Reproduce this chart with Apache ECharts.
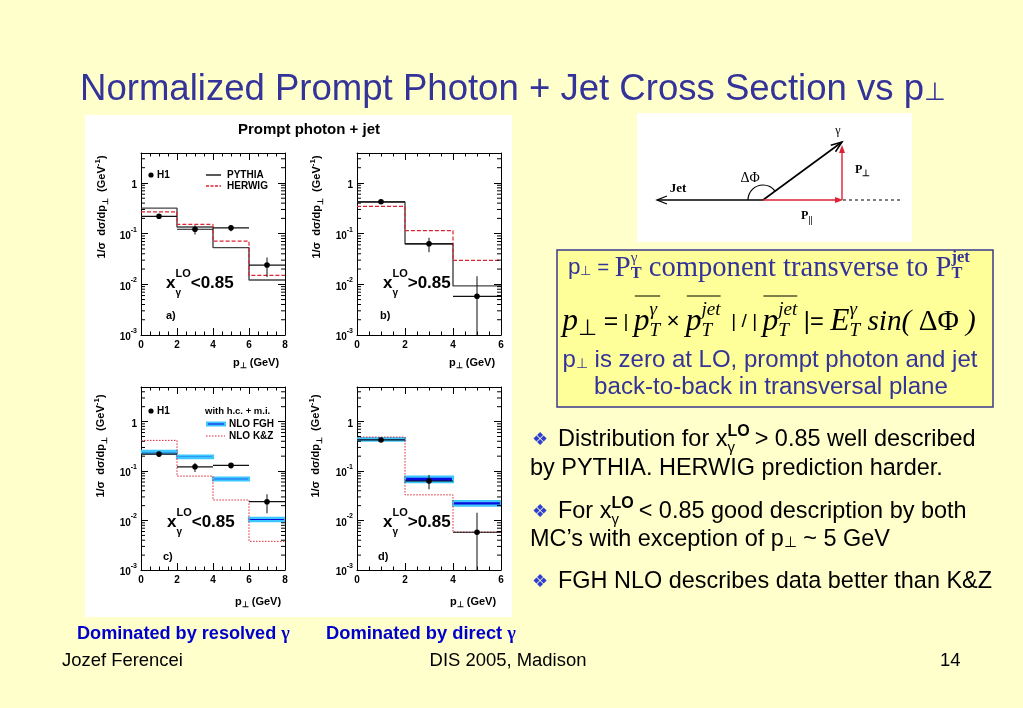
<!DOCTYPE html>
<html><head><meta charset="utf-8">
<script src="https://cdn.jsdelivr.net/npm/echarts@6/dist/echarts.min.js"></script>
<style>html,body{margin:0;padding:0;background:#FFFFCC;}#c{width:1023px;height:708px;}</style>
</head><body><div id="c"></div>
<script>
// ---------------- DATA ----------------
// bin edges in p_perp (GeV)
const binsResolved = [0, 2, 4, 6, 8];   // x_gamma^LO < 0.85
const binsDirect   = [0, 2, 4, 6];      // x_gamma^LO > 0.85

// H1 data, x_gamma^LO < 0.85
const h1ResX     = [1, 3, 5, 7];
const h1ResY     = [0.22, 0.122, 0.13, 0.024];
const h1ResErrHi = [0.24, 0.146, 0.145, 0.034];
const h1ResErrLo = [0.20, 0.096, 0.112, 0.014];
// H1 data, x_gamma^LO > 0.85
const h1DirX     = [1, 3, 5];
const h1DirY     = [0.425, 0.063, 0.0058];
const h1DirErrHi = [0.45, 0.083, 0.0144];
const h1DirErrLo = [0.40, 0.043, 0.001];

// Monte Carlo
const pythiaRes = [0.318, 0.135, 0.053, 0.0122];
const herwigRes = [0.27, 0.152, 0.071, 0.015];
const pythiaDir = [0.42, 0.063, 0.0093];
const herwigDir = [0.344, 0.115, 0.0296];

// NLO
const fghResLo = [0.229, 0.182, 0.065, 0.0097];
const fghResHi = [0.255, 0.206, 0.0736, 0.0113];
const fghDirLo = [0.417, 0.060, 0.020];
const fghDirHi = [0.463, 0.077, 0.0247];
const kzRes = [0.417, 0.079, 0.026, 0.0038];
const kzDir = [0.486, 0.033, 0.00585];

// ---------------- HELPERS ----------------
const SANS = '"Liberation Sans", Arial, Helvetica, sans-serif';
const SERIF = '"Liberation Serif", "Times New Roman", Times, serif';
const BLUE = '#333399';
const RED = '#dd2233';
const cv = document.createElement('canvas'); const ctx = cv.getContext('2d');
function fontStr(p){ return (p.i?'italic ':'') + (p.b?'bold ':'') + p.s + 'px ' + (p.f||SANS); }
const G = [];
function txt(x, y, t, p){
  G.push({type:'text', x:x, y:y, z:20, silent:true, rotation:p.rot||0,
    style:{text:t, fontSize:p.s, fontFamily:p.f||SANS, fontWeight:p.b?'bold':'normal', fontStyle:p.i?'italic':'normal',
      fill:p.c||'#000', align:p.a||'left', verticalAlign:'middle'}});
}
function layout(parts, k){
  k = k || 1;
  const lay = []; let x = 0, lastStart = 0, lastEnd = 0;
  parts.forEach(p0 => {
    const p = Object.assign({}, p0, {s:p0.s*k, dy:(p0.dy||0)*k, gap:(p0.gap||0)*k});
    ctx.font = fontStr(p);
    const w = ctx.measureText(p.t).width;
    let sx, end;
    if (p.stack) { sx = lastStart; end = Math.max(lastEnd, sx + w); }
    else { sx = x; end = x + w; lastStart = sx; }
    lay.push({p:p, sx:sx, w:w});
    lastEnd = end; x = end + p.gap;
  });
  return {lay:lay, width:x};
}
function seq(x0, y, parts, opt){
  opt = opt || {};
  let k = 1;
  if (opt.fit) { k = opt.fit / layout(parts, 1).width; }
  const L = layout(parts, k);
  let off = x0;
  if (opt.center) off = x0 - L.width/2;
  L.lay.forEach(l => { const p = Object.assign({}, l.p); if (!p.c) p.c = opt.c; txt(off + l.sx, y + l.p.dy, l.p.t, p); });
  return L.lay.map(l => [off + l.sx, off + l.sx + l.w]);
}
function fitSize(t, p, w){ ctx.font = fontStr(Object.assign({}, p, {s:100})); return 100 * w / ctx.measureText(t).width; }
function line(x1,y1,x2,y2,stroke,w,dash){ G.push({type:'line', z:15, silent:true, shape:{x1,y1,x2,y2}, style:{stroke:stroke, lineWidth:w||1, lineDash:dash||null}}); }
function arrowPts(x1,y1,x2,y2,len,half){ const dx=x2-x1, dy=y2-y1, L=Math.hypot(dx,dy), ux=dx/L, uy=dy/L; const bx=x2-ux*len, by=y2-uy*len; return [[bx-uy*half, by+ux*half],[x2,y2],[bx+uy*half, by-ux*half]]; }
function hist(edges, vals){ const d=[]; vals.forEach((v,i)=>{ d.push([edges[i], v]); d.push([edges[i+1], v]); }); return d; }

// ---------------- BACKGROUND PIECES ----------------
G.push({type:'rect', z:-5, silent:true, shape:{x:85, y:115, width:427, height:502}, style:{fill:'#ffffff'}});
G.push({type:'rect', z:-5, silent:true, shape:{x:637, y:113, width:275, height:129}, style:{fill:'#ffffff'}});
G.push({type:'rect', z:-5, silent:true, shape:{x:557, y:250, width:436, height:157}, style:{fill:'#FFFF99', stroke:'#3a3a8c', lineWidth:1.5}});

// title
seq(80, 90, [{t:'Normalized Prompt Photon + Jet Cross Section vs p', s:32}, {t:'\u22A5', s:22, dy:3}], {c:BLUE, fit:866});
txt(309, 130, 'Prompt photon + jet', {s:15, b:1, a:'center'});

// ---------------- PANELS ----------------
const panels = [
  {left:141, top:153, width:144, height:182, xmax:8, ymax:3.9, edges:binsResolved, x:h1ResX, y:h1ResY, hi:h1ResErrHi, lo:h1ResErrLo,
   lines:[{v:pythiaRes, c:'#444', w:1.4, t:'solid'}, {v:herwigRes, c:RED, w:1.2, t:[4,2]}]},
  {left:357, top:153, width:144, height:182, xmax:6, ymax:3.9, edges:binsDirect, x:h1DirX, y:h1DirY, hi:h1DirErrHi, lo:h1DirErrLo,
   lines:[{v:pythiaDir, c:'#444', w:1.4, t:'solid'}, {v:herwigDir, c:RED, w:1.2, t:[4,2]}]},
  {left:141, top:387, width:144, height:183, xmax:8, ymax:5, edges:binsResolved, x:h1ResX, y:h1ResY, hi:h1ResErrHi, lo:h1ResErrLo,
   band:{lo:fghResLo, hi:fghResHi}, lines:[{v:kzRes, c:RED, w:1, t:[1.5,1.5]}]},
  {left:357, top:387, width:144, height:183, xmax:6, ymax:5, edges:binsDirect, x:h1DirX, y:h1DirY, hi:h1DirErrHi, lo:h1DirErrLo,
   band:{lo:fghDirLo, hi:fghDirHi}, lines:[{v:kzDir, c:RED, w:1, t:[1.5,1.5]}]}
];

function minorVals(ymax){ const r=[]; for (let k=-3;k<=0;k++) for (let m=2;m<=9;m++){ const v=m*Math.pow(10,k); if (v<ymax) r.push([0,v]); } return r; }

const grids=[], xAxes=[], yAxes=[], series=[];
const lab = {fontSize:10, fontWeight:'bold', fontFamily:SANS, color:'#000'};
panels.forEach((P,k) => {
  grids.push({left:P.left, top:P.top, width:P.width, height:P.height, show:false});
  const xb = {type:'value', gridIndex:k, min:0, max:P.xmax, interval:2,
    axisLine:{show:true, onZero:false, lineStyle:{color:'#000', width:1}},
    axisTick:{show:true, inside:true, length:7, lineStyle:{color:'#000'}},
    minorTick:{show:true, splitNumber:4, length:3.5, lineStyle:{color:'#000'}},
    splitLine:{show:false}, minorSplitLine:{show:false}};
  xAxes.push(Object.assign({}, xb, {position:'bottom', axisLabel:Object.assign({show:true, margin:5}, lab)}));
  xAxes.push(Object.assign({}, xb, {position:'top', axisLabel:{show:false}}));
  const yb = {type:'log', logBase:10, gridIndex:k, min:0.001, max:P.ymax,
    axisLine:{show:true, onZero:false, lineStyle:{color:'#000', width:1}},
    axisTick:{show:true, inside:true, length:7, lineStyle:{color:'#000'}},
    splitLine:{show:false}, minorTick:{show:false}};
  yAxes.push(Object.assign({}, yb, {position:'left', axisLabel:{show:true, margin:4,
    formatter:(v)=>{ const e=Math.log10(v), r=Math.round(e); if (Math.abs(e-r)>1e-6) return ''; return r===0?'{n|1}':'{n|10}{s|'+r+'}'; },
    rich:{n:Object.assign({lineHeight:15, verticalAlign:'bottom'}, lab), s:Object.assign({}, lab, {fontSize:7, lineHeight:15, verticalAlign:'top'})}}}));
  yAxes.push(Object.assign({}, yb, {position:'right', axisLabel:{show:false}}));
  const xi=2*k, yi=2*k;
  // minor log ticks
  series.push({type:'custom', xAxisIndex:xi, yAxisIndex:yi, data:minorVals(P.ymax), clip:false, silent:true, z:5,
    renderItem:(params, api)=>{ const cs=params.coordSys; const y=api.coord([0, api.value(1)])[1];
      return {type:'group', children:[
        {type:'line', shape:{x1:cs.x, y1:y, x2:cs.x+4, y2:y}, style:{stroke:'#000', lineWidth:1}},
        {type:'line', shape:{x1:cs.x+cs.width-4, y1:y, x2:cs.x+cs.width, y2:y}, style:{stroke:'#000', lineWidth:1}}]}; }});
  if (P.band) {
    series.push({type:'custom', xAxisIndex:xi, yAxisIndex:yi, clip:true, silent:true, z:2,
      data: P.band.lo.map((v,i)=>[P.edges[i], P.edges[i+1], v, P.band.hi[i]]),
      renderItem:(params, api)=>{ const a=api.coord([api.value(0), api.value(3)]), b=api.coord([api.value(1), api.value(2)]);
        return {type:'rect', shape:{x:a[0], y:a[1], width:b[0]-a[0], height:Math.max(2.5, b[1]-a[1])}, style:{fill:'#0a0adc', stroke:'#3cc8ff', lineWidth:2.2}}; }});
  }
  P.lines.forEach(L => series.push({type:'line', xAxisIndex:xi, yAxisIndex:yi, data:hist(P.edges, L.v), symbol:'none', showSymbol:false,
    silent:true, z:3, lineStyle:{color:L.c, width:L.w, type:L.t}}));
  series.push({type:'custom', xAxisIndex:xi, yAxisIndex:yi, clip:true, silent:true, z:4,
    data: P.x.map((x,i)=>[x, P.y[i], P.edges[i], P.edges[i+1], P.lo[i], P.hi[i]]),
    renderItem:(params, api)=>{ const p=api.coord([api.value(0), api.value(1)]), l=api.coord([api.value(2), api.value(1)]), h=api.coord([api.value(3), api.value(1)]);
      const yl=api.coord([api.value(0), api.value(4)]), yh=api.coord([api.value(0), api.value(5)]);
      return {type:'group', children:[
        {type:'line', shape:{x1:l[0], y1:p[1], x2:h[0], y2:p[1]}, style:{stroke:'#111', lineWidth:1.2}},
        {type:'line', shape:{x1:p[0], y1:yl[1], x2:p[0], y2:yh[1]}, style:{stroke:'#222', lineWidth:1.1}},
        {type:'circle', shape:{cx:p[0], cy:p[1], r:2.8}, style:{fill:'#000'}}]}; }});
});

// axis titles and panel annotations
const labN = Object.assign({}, lab, {fontSize:11});
function yName(x, y){
  G.push({type:'text', x:x, y:y, z:20, silent:true, rotation:Math.PI/2,
    style:{text:'{n|1/\u03C3  d\u03C3/dp}{s|\u22A5}{n|  (GeV}{u|-1}{n|)}', align:'center', verticalAlign:'middle', fill:'#000',
      rich:{n:Object.assign({lineHeight:16, verticalAlign:'middle'}, labN), s:Object.assign({}, lab, {fontSize:8, lineHeight:16, verticalAlign:'bottom'}), u:Object.assign({}, lab, {fontSize:8, lineHeight:16, verticalAlign:'top'})}}});
}
yName(102, 207); yName(317, 207); yName(101, 446); yName(316, 446);
function xName(x, y){ seq(x, y, [{t:'p', s:11, b:1}, {t:'\u22A5', s:8, b:1, dy:3}, {t:' (GeV)', s:11, b:1}]); }
xName(233, 363); xName(449, 363); xName(235, 602); xName(450, 602);
function xg(x, y, rel){ seq(x, y, [{t:'x', s:17, b:1}, {t:'\u03B3', s:10, b:1, dy:10}, {t:'LO', s:11, b:1, dy:-9, stack:1}, {t:rel+'0.85', s:17, b:1}]); }
xg(166, 283, '<'); xg(383, 283, '>'); xg(167, 522, '<'); xg(383, 522, '>');
txt(166, 316, 'a)', {s:11, b:1}); txt(380, 316, 'b)', {s:11, b:1});
txt(163, 557, 'c)', {s:11, b:1}); txt(378, 557, 'd)', {s:11, b:1});
// legends
G.push({type:'circle', z:20, silent:true, shape:{cx:151, cy:175, r:2.6}, style:{fill:'#000'}});
txt(157, 175, 'H1', {s:10, b:1});
line(206, 175, 221, 175, '#222', 1.5); txt(227, 175, 'PYTHIA', {s:10, b:1});
line(206, 186, 221, 186, RED, 1.3, [3,1.5]); txt(227, 186, 'HERWIG', {s:10, b:1});
G.push({type:'circle', z:20, silent:true, shape:{cx:151, cy:411, r:2.6}, style:{fill:'#000'}});
txt(157, 411, 'H1', {s:10, b:1});
txt(205, 411, 'with h.c. + m.i.', {s:9.5, b:1});
G.push({type:'rect', z:20, silent:true, shape:{x:207, y:422.5, width:18, height:3}, style:{fill:'#0a0adc', stroke:'#3cc8ff', lineWidth:2}});
txt(229, 424, 'NLO FGH', {s:10, b:1});
line(206, 436, 225, 436, RED, 1, [1.5,1.5]); txt(229, 436, 'NLO K&Z', {s:10, b:1});

// ---------------- DIAGRAM ----------------
line(763, 200, 657, 200, '#000', 1.3);
G.push({type:'polyline', z:15, silent:true, shape:{points:arrowPts(763,200,657,200,10,4)}, style:{stroke:'#000', lineWidth:1.3, fill:null}});
line(763, 200, 842, 142, '#000', 1.6);
G.push({type:'polyline', z:15, silent:true, shape:{points:arrowPts(763,200,842,142,11,4)}, style:{stroke:'#000', lineWidth:1.5, fill:null}});
line(763, 200, 836, 200, RED, 1.4);
G.push({type:'polygon', z:15, silent:true, shape:{points:arrowPts(763,200,843,200,8,3)}, style:{fill:RED}});
line(842, 200, 842, 152, RED, 1.4);
G.push({type:'polygon', z:15, silent:true, shape:{points:arrowPts(842,200,842,145,8,3)}, style:{fill:RED}});
line(843, 200, 901, 200, '#000', 1, [3,3]);
G.push({type:'arc', z:15, silent:true, shape:{cx:763, cy:200, r:15, startAngle:-Math.PI, endAngle:-0.64, clockwise:true}, style:{stroke:'#000', lineWidth:1.2, fill:null}});
txt(678, 189, 'Jet', {s:13, b:1, f:SERIF, a:'center'});
txt(750, 178, '\u0394\u03A6', {s:14, f:SERIF, a:'center'});
txt(838, 131, '\u03B3', {s:12, f:SERIF, a:'center'});
seq(855, 170, [{t:'P', s:12, b:1, f:SERIF}, {t:'\u22A5', s:9, b:1, dy:4}]);
seq(801, 216, [{t:'P', s:12, b:1, f:SERIF}, {t:'||', s:10, b:1, f:SERIF, dy:4}]);

// ---------------- FORMULA BOX ----------------
seq(568, 268, [
  {t:'p', s:22}, {t:'\u22A5', s:13, dy:3}, {t:' = ', s:20},
  {t:'P', s:28, f:SERIF}, {t:'T', s:16, b:1, f:SERIF, dy:6}, {t:'\u03B3', s:15, f:SERIF, dy:-10, stack:1},
  {t:' component transverse to P', s:28, f:SERIF}, {t:'T', s:16, b:1, f:SERIF, dy:6}, {t:'jet', s:16, b:1, f:SERIF, dy:-10, stack:1}
], {c:BLUE, fit:402});
(function(){
  const I = {i:1, s:28, f:SERIF};
  const sub = (t)=>({t:t, i:1, s:17, f:SERIF, dy:8});
  const sup = (t)=>({t:t, i:1, s:17, f:SERIF, dy:-11, stack:1});
  const parts = [
    Object.assign({t:'p'}, I), {t:'\u22A5', s:20, dy:6}, {t:' =', s:22}, {t:' | ', s:17},
    Object.assign({t:'p'}, I), sub('T'), sup('\u03B3'), {t:' \u00D7 ', s:20},
    Object.assign({t:'p'}, I), sub('T'), sup('jet'), {t:'  | / | ', s:17},
    Object.assign({t:'p'}, I), sub('T'), sup('jet'), {t:' |= ', s:21},
    Object.assign({t:'E'}, I), sub('T'), sup('\u03B3'), {t:' sin( ', i:1, s:26, f:SERIF}, {t:'\u0394\u03A6', s:26, f:SERIF}, {t:' )', i:1, s:26, f:SERIF}
  ];
  const pos = seq(769, 322, parts, {center:1, c:'#000', fit:414});
  [[4,6],[8,10],[12,14]].forEach(g => { line(pos[g[0]][0]+1, 296, Math.max(pos[g[0]+1][1], pos[g[1]][1]), 296, '#000', 1); });
})();
seq(770, 360, [{t:'p', s:20}, {t:'\u22A5', s:12, dy:3}, {t:' is zero at LO, prompt photon and jet', s:20}], {center:1, c:BLUE, fit:415});
(function(){ const k = fitSize('p is zero at LO, prompt photon and jet', {s:20}, 405); seq(771, 387, [{t:'back-to-back in transversal plane', s:k}], {center:1, c:BLUE}); })();

// ---------------- BULLETS ----------------
const BUL = '#2f3fcf';
const BS = fitSize('by PYTHIA. HERWIG prediction harder.', {s:20}, 413);
txt(532, 440, '\u2756', {s:18, c:BUL});
seq(558, 440, [{t:'Distribution for x', s:BS}, {t:'\u03B3', s:15, dy:8}, {t:'LO', s:16, b:1, dy:-8, stack:1, gap:5}, {t:'> 0.85 well described', s:BS}], {c:'#000'});
txt(530, 469, 'by PYTHIA. HERWIG prediction harder.', {s:BS});
txt(532, 512, '\u2756', {s:18, c:BUL});
seq(558, 512, [{t:'For x', s:BS}, {t:'\u03B3', s:15, dy:8}, {t:'LO', s:16, b:1, dy:-8, stack:1, gap:5}, {t:'< 0.85 good description by both', s:BS}], {c:'#000'});
seq(530, 540, [{t:'MC\u2019s with exception of p', s:BS}, {t:'\u22A5', s:15, dy:3}, {t:' ~ 5 GeV', s:BS}], {c:'#000'});
txt(532, 582, '\u2756', {s:18, c:BUL});
txt(558, 582, 'FGH NLO describes data better than K&Z', {s:BS});

// ---------------- CAPTIONS / FOOTER ----------------
seq(77, 634, [{t:'Dominated by resolved ', s:15, b:1}, {t:'\u03B3', s:15, b:1, f:SERIF}], {c:'#0000cc', fit:213});
seq(326, 634, [{t:'Dominated by direct ', s:15, b:1}, {t:'\u03B3', s:15, b:1, f:SERIF}], {c:'#0000cc', fit:190});
const FS = fitSize('DIS 2005, Madison', {s:15}, 157);
txt(62, 661, 'Jozef Ferencei', {s:FS});
txt(508, 661, 'DIS 2005, Madison', {s:FS, a:'center'});
txt(940, 661, '14', {s:FS});

const chart = echarts.init(document.getElementById('c'), null, {renderer:'canvas'});
chart.setOption({
  animation:false, backgroundColor:'#FFFFCC',
  grid:grids, xAxis:xAxes, yAxis:yAxes, series:series, graphic:G
});
</script></body></html>
